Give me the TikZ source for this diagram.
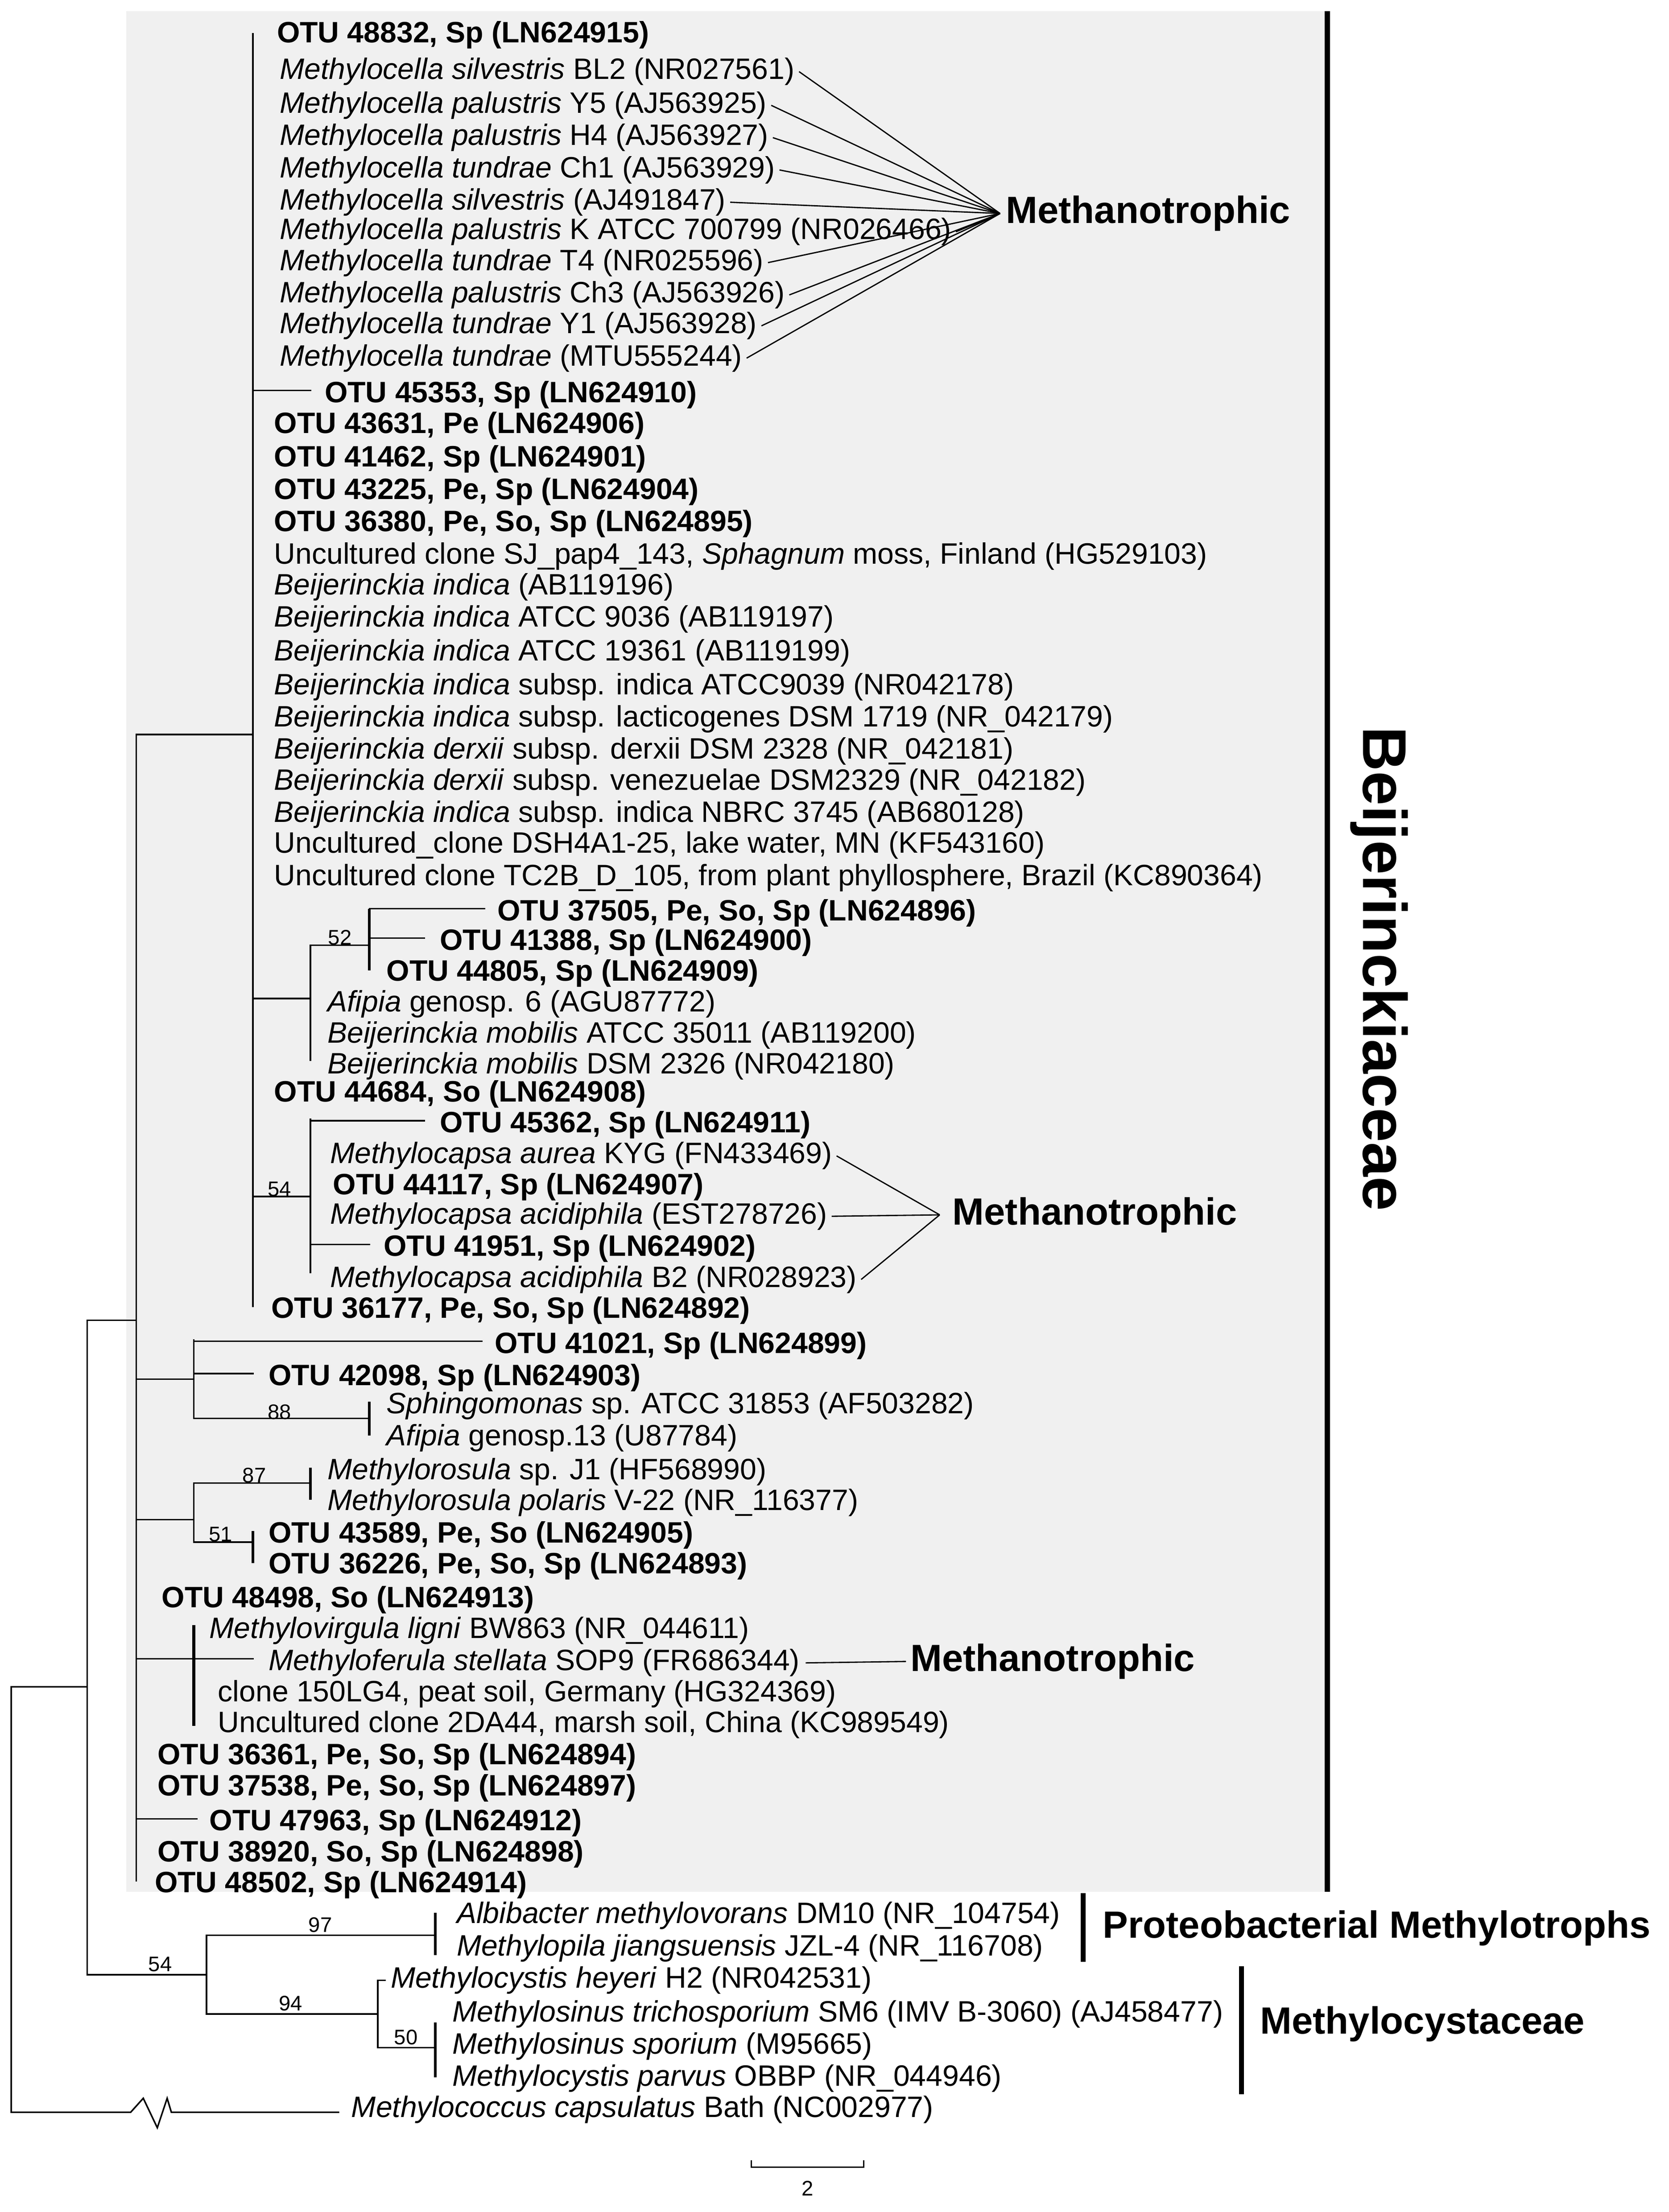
\documentclass[tikz,border=0pt]{standalone}
\usepackage{fontspec}
\setmainfont{Liberation Sans}
\definecolor{boxgrey}{rgb}{0.94,0.94,0.94}
\begin{document}
\begin{tikzpicture}[x=1pt,y=-1pt,
  lf/.style={anchor=west,inner sep=0pt,yshift=-3pt,font=\fontsize{21}{24}\selectfont},
  bs/.style={font=\fontsize{15}{17}\selectfont,anchor=south,inner sep=1pt},
  grp/.style={anchor=west,inner sep=0pt,font=\fontsize{27}{30}\selectfont\bfseries},
  br/.style={line width=1.1pt,line cap=rect},
  tk/.style={line width=2pt}]
\useasboundingbox (0,0) rectangle (1188,1575);
\fill[boxgrey] (90,8) rectangle (945,1347);
\draw[line width=4pt] (945,8) -- (945,1347);
\node[rotate=-90,font=\fontsize{44}{48}\selectfont\bfseries] (beij) at (982,690) {Beijerinckiaceae};
% leaves
\node[lf] (l1) at (197,22) {\textbf{OTU 48832, Sp (LN624915)}};
\node[lf] (m1) at (199,48) {\textit{Methylocella silvestris} BL2 (NR027561)};
\node[lf] (m2) at (199,72) {\textit{Methylocella palustris} Y5 (AJ563925)};
\node[lf] (m3) at (199,95) {\textit{Methylocella palustris} H4 (AJ563927)};
\node[lf] (m4) at (199,118) {\textit{Methylocella tundrae} Ch1 (AJ563929)};
\node[lf] (m5) at (199,141) {\textit{Methylocella silvestris} (AJ491847)};
\node[lf] (m6) at (199,162) {\textit{Methylocella palustris} K ATCC 700799 (NR026466)};
\node[lf] (m7) at (199,184) {\textit{Methylocella tundrae} T4 (NR025596)};
\node[lf] (m8) at (199,207) {\textit{Methylocella palustris} Ch3 (AJ563926)};
\node[lf] (m9) at (199,229) {\textit{Methylocella tundrae} Y1 (AJ563928)};
\node[lf] (m10) at (199,252) {\textit{Methylocella tundrae} (MTU555244)};
\node[lf] (l12) at (231,278) {\textbf{OTU 45353, Sp (LN624910)}};
\node[lf] (l13) at (195,300) {\textbf{OTU 43631, Pe (LN624906)}};
\node[lf] (l14) at (195,324) {\textbf{OTU 41462, Sp (LN624901)}};
\node[lf] (l15) at (195,347) {\textbf{OTU 43225, Pe, Sp (LN624904)}};
\node[lf] (l16) at (195,370) {\textbf{OTU 36380, Pe, So, Sp (LN624895)}};
\node[lf] (l17) at (195,393) {Uncultured clone SJ\_pap4\_143, \textit{Sphagnum} moss, Finland (HG529103)};
\node[lf] (l18) at (195,415) {\textit{Beijerinckia indica} (AB119196)};
\node[lf] (l19) at (195,438) {\textit{Beijerinckia indica} ATCC 9036 (AB119197)};
\node[lf] (l20) at (195,462) {\textit{Beijerinckia indica} ATCC 19361 (AB119199)};
\node[lf] (l21) at (195,486) {\textit{Beijerinckia indica} subsp. indica ATCC9039 (NR042178)};
\node[lf] (l22) at (195,509) {\textit{Beijerinckia indica} subsp. lacticogenes DSM 1719 (NR\_042179)};
\node[lf] (l23) at (195,532) {\textit{Beijerinckia derxii} subsp. derxii DSM 2328 (NR\_042181)};
\node[lf] (l24) at (195,554) {\textit{Beijerinckia derxii} subsp. venezuelae DSM2329 (NR\_042182)};
\node[lf] (l25) at (195,577) {\textit{Beijerinckia indica} subsp. indica NBRC 3745 (AB680128)};
\node[lf] (l26) at (195,599) {Uncultured\_clone DSH4A1-25, lake water, MN (KF543160)};
\node[lf] (l27) at (195,622) {Uncultured clone TC2B\_D\_105, from plant phyllosphere, Brazil (KC890364)};
\node[lf] (l28) at (354,647) {\textbf{OTU 37505, Pe, So, Sp (LN624896)}};
\node[lf] (l29) at (313,668) {\textbf{OTU 41388, Sp (LN624900)}};
\node[lf] (l30) at (275,690) {\textbf{OTU 44805, Sp (LN624909)}};
\node[lf] (l31) at (233,712) {\textit{Afipia} genosp. 6 (AGU87772)};
\node[lf] (l32) at (233,734) {\textit{Beijerinckia mobilis} ATCC 35011 (AB119200)};
\node[lf] (l33) at (233,756) {\textit{Beijerinckia mobilis} DSM 2326 (NR042180)};
\node[lf] (l34) at (195,776) {\textbf{OTU 44684, So (LN624908)}};
\node[lf] (l35) at (313,798) {\textbf{OTU 45362, Sp (LN624911)}};
\node[lf] (n1) at (235,820) {\textit{Methylocapsa aurea} KYG (FN433469)};
\node[lf] (l37) at (237,842) {\textbf{OTU 44117, Sp (LN624907)}};
\node[lf] (n2) at (235,863) {\textit{Methylocapsa acidiphila} (EST278726)};
\node[lf] (l39) at (273,886) {\textbf{OTU 41951, Sp (LN624902)}};
\node[lf] (n3) at (235,908) {\textit{Methylocapsa acidiphila} B2 (NR028923)};
\node[lf] (l41) at (193,930) {\textbf{OTU 36177, Pe, So, Sp (LN624892)}};
\node[lf] (l42) at (352,955) {\textbf{OTU 41021, Sp (LN624899)}};
\node[lf] (l43) at (191,978) {\textbf{OTU 42098, Sp (LN624903)}};
\node[lf] (l44) at (275,998) {\textit{Sphingomonas} sp. ATCC 31853 (AF503282)};
\node[lf] (l45) at (275,1021) {\textit{Afipia} genosp.13 (U87784)};
\node[lf] (l46) at (233,1045) {\textit{Methylorosula} sp. J1 (HF568990)};
\node[lf] (l47) at (233,1067) {\textit{Methylorosula polaris} V-22 (NR\_116377)};
\node[lf] (l48) at (191,1090) {\textbf{OTU 43589, Pe, So (LN624905)}};
\node[lf] (l49) at (191,1112) {\textbf{OTU 36226, Pe, So, Sp (LN624893)}};
\node[lf] (l50) at (115,1136) {\textbf{OTU 48498, So (LN624913)}};
\node[lf] (l51) at (149,1158) {\textit{Methylovirgula ligni} BW863 (NR\_044611)};
\node[lf] (f1) at (191,1181) {\textit{Methyloferula stellata} SOP9 (FR686344)};
\node[lf] (l53) at (155,1203) {clone 150LG4, peat soil, Germany (HG324369)};
\node[lf] (l54) at (155,1225) {Uncultured clone 2DA44, marsh soil, China (KC989549)};
\node[lf] (l55) at (112,1248) {\textbf{OTU 36361, Pe, So, Sp (LN624894)}};
\node[lf] (l56) at (112,1270) {\textbf{OTU 37538, Pe, So, Sp (LN624897)}};
\node[lf] (l57) at (149,1295) {\textbf{OTU 47963, Sp (LN624912)}};
\node[lf] (l58) at (112,1317) {\textbf{OTU 38920, So, Sp (LN624898)}};
\node[lf] (l59) at (110,1339) {\textbf{OTU 48502, Sp (LN624914)}};
\node[lf] (l60) at (325,1361) {\textit{Albibacter methylovorans} DM10 (NR\_104754)};
\node[lf] (l61) at (325,1384) {\textit{Methylopila jiangsuensis} JZL-4 (NR\_116708)};
\node[lf] (l62) at (278,1407) {\textit{Methylocystis heyeri} H2 (NR042531)};
\node[lf] (l63) at (322,1431) {\textit{Methylosinus trichosporium} SM6 (IMV B-3060) (AJ458477)};
\node[lf] (l64) at (322,1454) {\textit{Methylosinus sporium} (M95665)};
\node[lf] (l65) at (322,1477) {\textit{Methylocystis parvus} OBBP (NR\_044946)};
\node[lf] (l66) at (250,1499) {\textit{Methylococcus capsulatus} Bath (NC002977)};
% group labels
\node[grp] (g1) at (716,152) {Methanotrophic};
\node[grp] (g2) at (678,865) {Methanotrophic};
\node[grp] (g3) at (648,1183) {Methanotrophic};
\coordinate (c1) at (712,152);
\coordinate (c2) at (669,865);
\foreach \n in {m1,m2,m3,m4,m5,m6,m7,m8,m9,m10} \draw[line width=0.9pt] ([xshift=3pt]\n.east) -- (c1);
\foreach \n in {n1,n2,n3} \draw[line width=0.9pt] ([xshift=3pt]\n.east) -- (c2);
\draw[line width=0.9pt] ([xshift=4pt]f1.east) -- ([xshift=-3pt]g3.west);
\node[grp] (g4) at (785,1373) {Proteobacterial Methylotrophs};
\node[grp] (g5) at (897,1441) {Methylocystaceae};
\draw[line width=3.5pt] (771,1348) -- (771,1397);
\draw[line width=3.5pt] (884,1400) -- (884,1491);
% tree branches
\draw[br] (180,24) -- (180,930);
\draw[br] (180,278) -- (221,278);
\draw[br] (180,523) -- (97,523) -- (97,1339);
\draw[br] (180,711) -- (221,711);
\draw[br] (221,673) -- (221,755);
\draw[br] (221,673) -- (263,673);
\draw[tk] (263,647) -- (263,691);
\draw[br] (263,647) -- (345,647);
\draw[br] (263,668) -- (302,668);
\draw[br] (180,852) -- (221,852);
\draw[br] (221,797) -- (221,906);
\draw[br] (221,798) -- (302,798);
\draw[br] (221,886) -- (263,886);
\draw[br] (97,982) -- (138,982);
\draw[br] (138,954) -- (138,1010);
\draw[br] (138,955) -- (343,955);
\draw[br] (138,978) -- (180,978);
\draw[br] (138,1010) -- (263,1010);
\draw[tk] (263,998) -- (263,1022);
\draw[br] (97,1082) -- (138,1082);
\draw[br] (138,1056) -- (138,1098);
\draw[br] (138,1056) -- (221,1056);
\draw[tk] (221,1045) -- (221,1068);
\draw[br] (138,1098) -- (180,1098);
\draw[tk] (180,1090) -- (180,1113);
\draw[br] (97,1181) -- (138,1181);
\draw[tk] (138,1157) -- (138,1229);
\draw[br] (138,1181) -- (180,1181);
\draw[br] (97,1295) -- (140,1295);
\draw[br] (97,940) -- (62,940) -- (62,1406) -- (147,1406);
\draw[br] (147,1378) -- (147,1434);
\draw[br] (147,1378) -- (310,1378);
\draw[tk] (310,1362) -- (310,1392);
\draw[br] (147,1434) -- (269,1434);
\draw[br] (269,1410) -- (269,1458) -- (310,1458);
\draw[br] (269,1410) -- (274,1410);
\draw[tk] (310,1440) -- (310,1479);
\draw[br] (62,1201) -- (8,1201) -- (8,1504) -- (93,1504) -- (102,1494) -- (112,1515) -- (119,1494) -- (122,1504) -- (241,1504);
% bootstrap
\node[bs] (b52) at (242,674) {52};
\node[bs] (b54) at (199,853) {54};
\node[bs] (b88) at (199,1012) {88};
\node[bs] (b87) at (181,1057) {87};
\node[bs] (b51) at (157,1099) {51};
\node[bs] (b97) at (228,1377) {97};
\node[bs] (b54b) at (114,1405) {54};
\node[bs] (b94) at (207,1433) {94};
\node[bs] (b50) at (289,1457) {50};
% scale
\draw[line width=1pt] (535,1538) -- (535,1543) -- (615,1543) -- (615,1538);
\node[font=\fontsize{15}{17}\selectfont] (sc) at (575,1558) {2};
\end{tikzpicture}
\end{document}
